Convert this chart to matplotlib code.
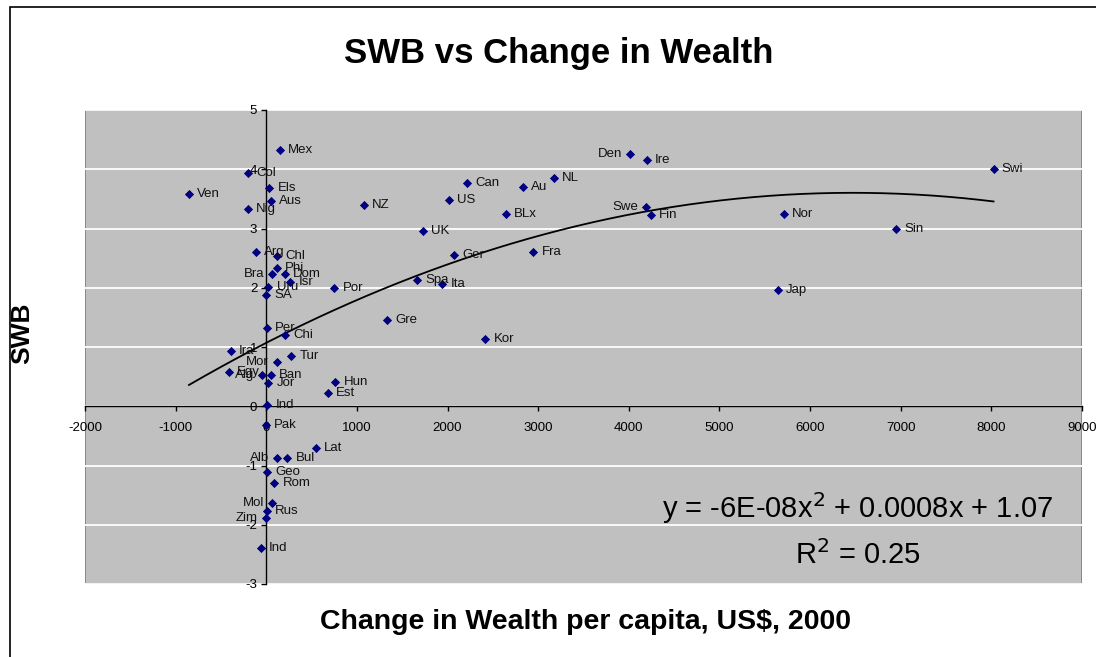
import matplotlib.pyplot as plt
import numpy as np
from matplotlib.patches import Rectangle

plt.rcParams["font.family"] = "Liberation Sans"
plt.rcParams["axes.unicode_minus"] = False

countries = ["Mex", "Col", "Ven", "Els", "Aus", "Nig", "Arg", "Chl", "Phi", "Bra",
             "Dom", "Isr", "Uru", "Por", "SA", "Per", "Chi", "Ira", "Tur", "Mor",
             "Egy", "Alg", "Ban", "Jor", "Hun", "Est", "Ind", "Pak", "Lat", "Alb",
             "Bul", "Geo", "Rom", "Mol", "Rus", "Zim", "Ind", "NZ", "Den", "Ire",
             "Can", "NL", "Au", "US", "BLx", "Swe", "Fin", "UK", "Ger", "Fra",
             "Spa", "Ita", "Gre", "Kor", "Swi", "Nor", "Sin", "Jap"]
wealth = [151, -205, -853, 33, 48, -205, -114, 122, 115, 59,
          206, 262, 22, 751, -3, 8, 206, -393, 276, 115,
          -415, -47, 48, 19, 762, 681, 8, -7, 545, 115,
          232, 11, 88, 60, 8, -7, -62, 1078, 4011, 4199,
          2219, 3172, 2830, 2017, 2642, 4187, 4243, 1726, 2068, 2947,
          1663, 1943, 1329, 2414, 8024, 5711, 6947, 5645]
swb = [4.32, 3.94, 3.59, 3.68, 3.46, 3.33, 2.61, 2.54, 2.33, 2.23,
       2.24, 2.09, 2.02, 2.00, 1.87, 1.32, 1.21, 0.94, 0.84, 0.75,
       0.57, 0.52, 0.53, 0.39, 0.41, 0.23, 0.02, -0.32, -0.71, -0.87,
       -0.87, -1.11, -1.30, -1.64, -1.76, -1.89, -2.40, 3.40, 4.25, 4.16,
       3.76, 3.86, 3.70, 3.48, 3.25, 3.37, 3.23, 2.95, 2.56, 2.61,
       2.13, 2.07, 1.45, 1.13, 4.00, 3.25, 3.00, 1.96]
left_labels = ["Bra", "Mor", "Alg", "Alb", "Mol", "Zim", "Den", "Swe"]

x_ticks = list(range(-2000, 9001, 1000))
y_ticks = list(range(-3, 6))

fig = plt.figure(figsize=(10.96, 6.57), dpi=100)
ax = fig.add_axes([85 / 1096, 1 - 584 / 657, 997 / 1096, 474 / 657])

# plot area
ax.set_facecolor("#C0C0C0")
ax.add_patch(Rectangle((0, 0), 1, 1, transform=ax.transAxes, fill=False,
                       edgecolor="#808080", lw=1.2, zorder=0.5))
for yv in y_ticks:
    ax.axhline(yv, color="white", lw=1.3, zorder=1)

ax.scatter(wealth, swb, marker="D", s=22, color="#000080", zorder=4, linewidths=0)

for name, xv, yv in zip(countries, wealth, swb):
    if name in left_labels:
        ax.annotate(name, (xv, yv), xytext=(-5.5, 0), textcoords="offset points",
                    ha="right", va="center", fontsize=9.5, color="#111111", zorder=5)
    else:
        ax.annotate(name, (xv, yv), xytext=(6, 0), textcoords="offset points",
                    ha="left", va="center", fontsize=9.5, color="#111111", zorder=5)

# polynomial trendline
coef = np.polyfit(wealth, swb, 2)
xs = np.linspace(min(wealth), max(wealth), 300)
ax.plot(xs, np.polyval(coef, xs), color="black", lw=1.3, zorder=3)

ax.set_xlim(-2000, 9000)
ax.set_ylim(-3, 5)
ax.set_xticks(x_ticks, [str(v) for v in x_ticks])
ax.set_yticks(y_ticks, [str(v) for v in y_ticks])
ax.spines["left"].set_position(("data", 0))
ax.spines["bottom"].set_position(("data", 0))
ax.spines["top"].set_visible(False)
ax.spines["right"].set_visible(False)
for s in ["left", "bottom"]:
    ax.spines[s].set_color("black")
    ax.spines[s].set_linewidth(1.0)
    ax.spines[s].set_zorder(2)
ax.tick_params(axis="x", direction="out", length=3.5, width=1, pad=8, labelsize=9.5)
ax.tick_params(axis="y", direction="out", length=3.5, width=1, pad=3, labelsize=9.5)

ax.text(0.775, 0.16, "y = -6E-08x$^2$ + 0.0008x + 1.07", transform=ax.transAxes,
        ha="center", va="center", fontsize=21, zorder=6)
ax.text(0.775, 0.061, "R$^2$ = 0.25", transform=ax.transAxes,
        ha="center", va="center", fontsize=21, zorder=6)

# chart frame, title and axis titles
fig.add_artist(Rectangle((10 / 1096, -0.1), 1.2, 1.1 - 7 / 657, transform=fig.transFigure,
                         fill=False, edgecolor="black", lw=1.2))
fig.text(559 / 1096, 1 - 54 / 657, "SWB vs Change in Wealth", ha="center", va="center",
         fontsize=25, fontweight="bold")
fig.text(586 / 1096, 1 - 622 / 657, "Change in Wealth per capita, US$, 2000",
         ha="center", va="center", fontsize=20.5, fontweight="bold")
fig.text(22 / 1096, 1 - 333 / 657, "SWB", ha="center", va="center", rotation=90,
         fontsize=19, fontweight="bold")

plt.savefig("out.png")
